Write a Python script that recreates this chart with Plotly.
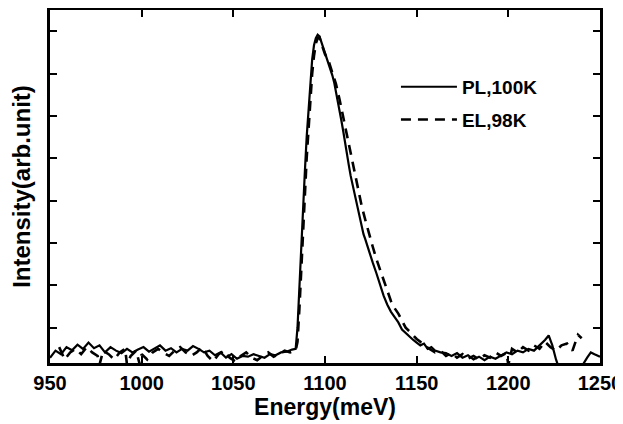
import plotly.graph_objects as go

# ---- data ----
pl_energy = [950, 953, 956, 959, 962, 965, 968, 971, 974, 977, 980, 983, 986, 989, 992, 995, 998,
             1001, 1004, 1007, 1010, 1013, 1016, 1019, 1022, 1025, 1028, 1031, 1034, 1037, 1040,
             1043, 1046, 1049, 1052, 1055, 1058, 1061, 1064, 1067, 1070, 1073, 1076, 1079, 1082,
             1084, 1085, 1086, 1087, 1088, 1089, 1090, 1091, 1092, 1093, 1094, 1095, 1096, 1097,
             1098, 1099, 1100, 1101, 1102, 1103, 1104, 1105, 1106, 1107, 1108, 1109, 1110, 1111,
             1112, 1113, 1114, 1115, 1116, 1117, 1118, 1119, 1120, 1121, 1122, 1124, 1126, 1128,
             1130, 1132, 1134, 1136, 1138, 1140, 1142, 1144, 1146, 1148, 1150, 1152, 1154, 1156,
             1158, 1160, 1163, 1166, 1169, 1172, 1175, 1178, 1181, 1184, 1187, 1190, 1193, 1196,
             1199, 1202, 1205, 1208, 1211, 1214, 1217, 1220, 1222, 1224, 1226, 1228, 1232, 1236,
             1240, 1243, 1245, 1247, 1250]
pl_intensity = [0.015, 0.035, 0.025, 0.045, 0.036, 0.052, 0.040, 0.058, 0.042, 0.050, 0.030, 0.045,
                0.035, 0.028, 0.040, 0.030, 0.038, 0.045, 0.032, 0.040, 0.050, 0.035, 0.042, 0.030,
                0.040, 0.035, 0.048, 0.040, 0.030, 0.035, 0.022, 0.030, 0.015, 0.025, 0.012, 0.020,
                0.018, 0.025, 0.020, 0.015, 0.025, 0.022, 0.030, 0.032, 0.038,
                0.040, 0.100, 0.220, 0.340, 0.440, 0.540, 0.640, 0.710, 0.800, 0.860, 0.900, 0.920,
                0.930, 0.925, 0.910, 0.895, 0.875, 0.865, 0.850, 0.835, 0.815, 0.795, 0.770, 0.745,
                0.715, 0.685, 0.655, 0.620, 0.590, 0.560, 0.530, 0.505, 0.480, 0.455, 0.430, 0.405,
                0.385, 0.365, 0.350, 0.315, 0.285, 0.255, 0.220, 0.190, 0.165, 0.145, 0.130, 0.115,
                0.095, 0.085, 0.075, 0.066, 0.058, 0.050, 0.055, 0.040, 0.045, 0.035, 0.030, 0.028,
                0.020, 0.028, 0.015, 0.022, 0.010, 0.018, 0.008, 0.018, 0.012, 0.022, 0.030, 0.025,
                0.035, 0.030, 0.040, 0.035, 0.050, 0.065, 0.078, 0.050, 0.010, -0.020, -0.030,
                -0.020, -0.010, 0.015, 0.030, 0.025, 0.018]

el_energy = [955, 958, 961, 964, 967, 970, 973, 976, 977, 979, 982, 985, 988, 991, 992, 994, 997,
             999, 1000, 1003, 1006, 1009, 1012, 1015, 1018, 1021, 1024, 1027, 1030, 1033, 1036,
             1039, 1042, 1045, 1048, 1051, 1054, 1057, 1060, 1063, 1066, 1069, 1072, 1075, 1078,
             1081, 1084, 1085, 1086, 1087, 1088, 1089, 1090, 1091, 1092, 1093, 1094, 1095, 1096,
             1097, 1098, 1099, 1100, 1102, 1104, 1106, 1108, 1110, 1112, 1114, 1116, 1118, 1120,
             1122, 1124, 1126, 1128, 1130, 1132, 1134, 1136, 1138, 1140, 1142, 1144, 1146, 1148,
             1150, 1152, 1154, 1157, 1160, 1163, 1166, 1169, 1172, 1175, 1178, 1181, 1184, 1187,
             1190, 1193, 1196, 1199, 1200, 1202, 1205, 1208, 1211, 1214, 1217, 1220, 1223, 1226,
             1229, 1232, 1235, 1238, 1240]
el_intensity = [0.045, 0.010, 0.030, 0.040, 0.025, 0.045, 0.030, 0.020, -0.005, 0.035, 0.025, 0.010,
                0.030, 0.040, -0.005, 0.020, 0.035, -0.005, 0.025, 0.010, 0.030, 0.040, 0.028, 0.020,
                0.035, 0.045, 0.030, 0.020, 0.030, 0.045, 0.020, 0.005, 0.025, 0.035, 0.015, 0.005,
                0.020, 0.030, 0.015, 0.008, 0.020, 0.030, 0.018, 0.025, 0.035, 0.030, 0.035,
                0.060, 0.150, 0.270, 0.380, 0.480, 0.580, 0.660, 0.750, 0.820, 0.870, 0.905, 0.920,
                0.922, 0.905, 0.890, 0.875, 0.855, 0.825, 0.790, 0.745, 0.695, 0.640, 0.585, 0.535,
                0.490, 0.445, 0.405, 0.365, 0.330, 0.295, 0.265, 0.230, 0.200, 0.175, 0.155, 0.140,
                0.120, 0.100, 0.090, 0.078, 0.068, 0.060, 0.050, 0.040, 0.030, 0.035, 0.020, 0.028,
                0.015, 0.025, 0.012, 0.020, 0.010, 0.022, 0.015, 0.030, 0.020, 0.028, -0.005, 0.040,
                0.030, 0.045, 0.035, 0.050, 0.040, 0.060, 0.045, 0.035, 0.050, 0.055, 0.035, 0.080,
                0.070]

series_names = ["PL,100K", "EL,98K"]
x_ticks = [950, 1000, 1050, 1100, 1150, 1200, 1250]

FONT = "Liberation Sans, Arial, sans-serif"

fig = go.Figure()
fig.add_trace(go.Scatter(x=pl_energy, y=pl_intensity, mode="lines", name=series_names[0],
                         legendgroup="a",
                         line=dict(color="black", width=2.2)))
fig.add_trace(go.Scatter(x=el_energy, y=el_intensity, mode="lines", name=series_names[1],
                         legendgroup="b",
                         line=dict(color="black", width=2.6, dash="10px,7px")))

# the page body has an 8px default margin, so the figure is sized to fit inside it
fig.update_layout(
    width=615, height=416,
    margin=dict(l=42, r=23, t=2, b=61, autoexpand=False),
    paper_bgcolor="white", plot_bgcolor="white",
    showlegend=True,
    legend=dict(x=0.629, y=0.836, xanchor="left", yanchor="top",
                bgcolor="rgba(0,0,0,0)", borderwidth=0,
                font=dict(family=FONT, size=19, color="black", weight="bold"),
                itemwidth=56, traceorder="grouped", tracegroupgap=5),
    font=dict(family=FONT, color="black"),
)
fig.update_xaxes(range=[950, 1250], tickvals=x_ticks, ticktext=[str(v) for v in x_ticks],
                 ticks="inside", ticklen=7, tickwidth=2, tickcolor="black",
                 showline=True, linewidth=2.5, linecolor="black", mirror="ticks",
                 showgrid=False, zeroline=False, automargin=False,
                 tickfont=dict(family=FONT, size=20, color="black", weight="bold"),
                 title=dict(text="Energy(meV)", standoff=3,
                            font=dict(family=FONT, size=23, color="black", weight="bold")))
fig.update_yaxes(range=[0, 1.0], tick0=0.1, dtick=0.12, showticklabels=False,
                 ticks="inside", ticklen=7, tickwidth=2, tickcolor="black",
                 showline=True, linewidth=2.5, linecolor="black", mirror="ticks",
                 showgrid=False, zeroline=False, automargin=False,
                 title=dict(text="Intensity(arb.unit)", standoff=14,
                            font=dict(family=FONT, size=24, color="black", weight="bold")))

fig.write_html("out.html")
